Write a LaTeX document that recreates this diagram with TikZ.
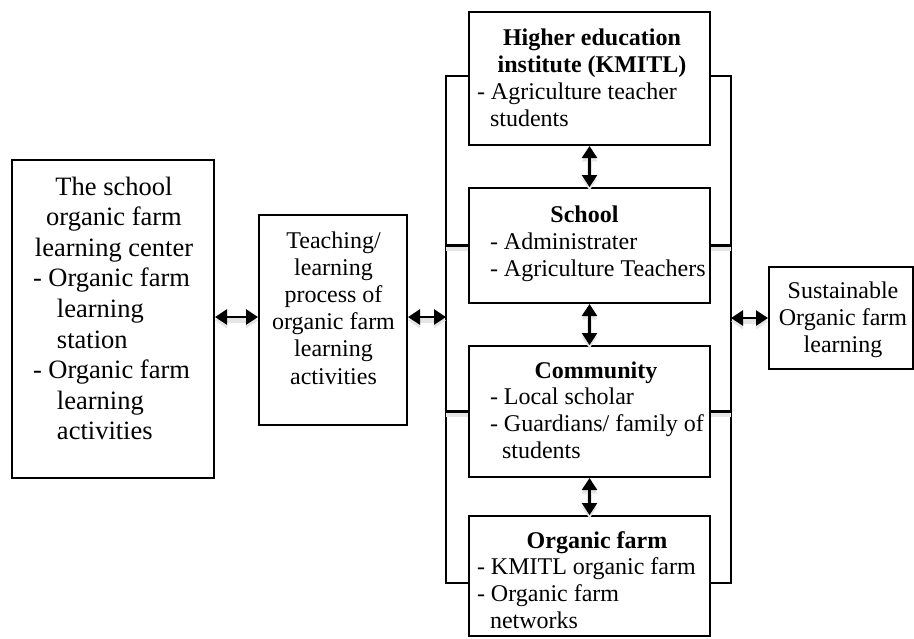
\documentclass[tikz,border=0pt]{standalone}
\usepackage{fontspec}
\setmainfont{Liberation Serif}
\usetikzlibrary{arrows.meta}
% one text line starting #1pt from the left edge of its box
\newcommand\lineat[2]{\hbox{\kern#1pt #2}}
% one centred text line, shifted right by half of #1pt
\newcommand\midline[2]{\hbox to\hsize{\hss\kern#1pt #2\hss}}
\newcommand\bodyfs{\fontsize{24}{27.2}\selectfont}
\begin{document}
\begin{tikzpicture}[x=1pt,y=-1pt,
  box/.style={draw, line width=2pt, rectangle, inner sep=0pt},
  txt/.style={anchor=base west, inner sep=0pt, outer sep=0pt},
  soft/.style={preaction={draw=black!10, line width=4.5pt,
      transform canvas={shift={(0pt,-3.5pt)}}}},
  link/.style={draw, line width=2.5pt},
  stub/.style={draw, line width=2.5pt, soft},
  biarrow/.style={line width=2.8pt, soft,
      {Triangle[length=12pt,width=15pt]}-{Triangle[length=12pt,width=15pt]}}
]
\useasboundingbox (0,0) rectangle (914,638);

% boxes
\node[box, minimum width=202pt, minimum height=318pt] (center) at (113,319) {};
\node[box, minimum width=148pt, minimum height=210pt] (teach) at (333,320) {};
\node[box, minimum width=241pt, minimum height=133pt] (hei) at (589.5,78.5) {};
\node[box, minimum width=241pt, minimum height=115pt] (sch) at (589.5,245.5) {};
\node[box, minimum width=241pt, minimum height=131pt] (com) at (589.5,411.5) {};
\node[box, minimum width=241pt, minimum height=120pt] (org) at (589.5,576) {};
\node[box, minimum width=144pt, minimum height=102pt] (sust) at (841,318) {};

% texts
\node[txt] (center-t) at (12,195) {\parbox[t]{202pt}{\fontsize{26.5}{30.6}\selectfont
  \midline{2}{The school}
  \midline{2}{organic farm}
  \midline{2}{learning center}
  \lineat{21}{- Organic farm}
  \lineat{45}{learning}
  \lineat{45}{station}
  \lineat{21}{- Organic farm}
  \lineat{45}{learning}
  \lineat{45}{activities}}};

\node[txt] (teach-t) at (259,248) {\parbox[t]{148pt}{\bodyfs
  \midline{1}{Teaching/}
  \midline{1}{learning}
  \midline{1}{process of}
  \midline{1}{organic farm}
  \midline{1}{learning}
  \midline{1}{activities}}};

\node[txt] (hei-t) at (469,45) {\parbox[t]{241pt}{\bodyfs
  \midline{5}{\bfseries Higher education}
  \midline{5}{\bfseries institute (KMITL)}
  \lineat{8}{- Agriculture teacher}
  \lineat{21}{students}}};

\node[txt] (sch-t) at (469,222) {\parbox[t]{241pt}{\bodyfs
  \midline{-10}{\bfseries School}
  \lineat{21}{- Administrater}
  \lineat{21}{- Agriculture Teachers}}};

\node[txt] (com-t) at (469,378) {\parbox[t]{241pt}{\fontsize{24}{26.8}\selectfont
  \midline{13}{\bfseries Community}
  \lineat{21}{- Local scholar}
  \lineat{21}{- Guardians/ family of}
  \lineat{33}{students}}};

\node[txt] (org-t) at (469,548) {\parbox[t]{241pt}{\fontsize{24}{26.8}\selectfont
  \midline{15}{\bfseries Organic farm}
  \lineat{8}{- KMITL organic farm}
  \lineat{8}{- Organic farm}
  \lineat{21}{networks}}};

\node[txt] (sust-t) at (769,298) {\parbox[t]{144pt}{\fontsize{24}{27}\selectfont
  \midline{4}{Sustainable}
  \midline{4}{Organic farm}
  \midline{4}{learning}}};

% bracket corners and arrow meeting points
\coordinate (lt) at (446,76);
\coordinate (lb) at (446,583);
\coordinate (rt) at (731,76);
\coordinate (rb) at (731,583);
\coordinate (ml) at (446,317);
\coordinate (mr) at (731,318);

% brackets joining the four partner boxes
\draw[link] (hei.west |- lt) -- (lt) -- (lb) -- (org.west |- lb);
\draw[stub] (sch.west) -- (sch.west -| lt);
\draw[stub] (com.west) -- (com.west -| lt);
\draw[link] (hei.east |- rt) -- (rt) -- (rb) -- (org.east |- rb);
\draw[stub] (sch.east) -- (sch.east -| rt);
\draw[stub] (com.east) -- (com.east -| rt);

% two-way arrows
\draw[biarrow] (center.east |- ml) -- (teach.west |- ml);
\draw[biarrow] (teach.east |- ml) -- (ml);
\draw[biarrow] (mr) -- (sust.west |- mr);
\draw[biarrow] (hei.south) -- (sch.north);
\draw[biarrow] (sch.south) -- (com.north);
\draw[biarrow] (com.south) -- (org.north);
\end{tikzpicture}
\end{document}
